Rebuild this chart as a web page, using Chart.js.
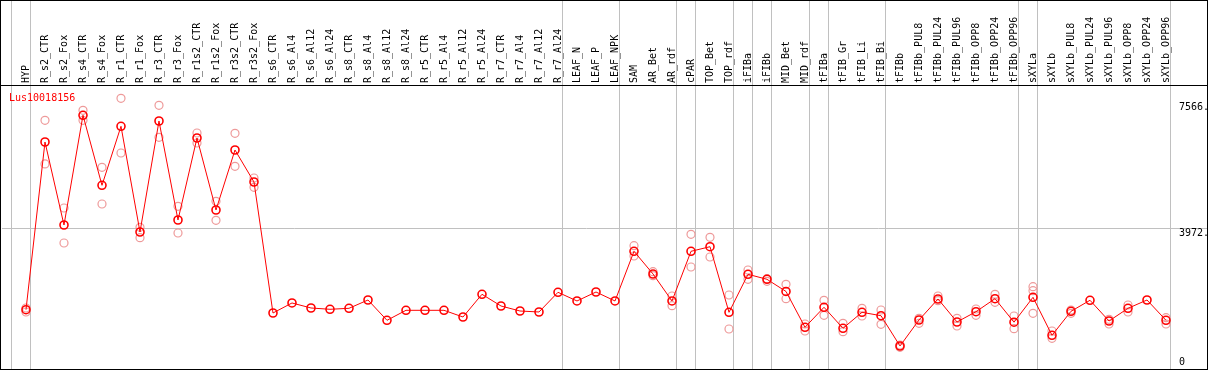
<!DOCTYPE html>
<html>
<head>
<meta charset="utf-8">
<style>
  html, body { margin: 0; padding: 0; background: #fff; }
  canvas { display: block; }
</style>
<script src="https://cdn.jsdelivr.net/npm/chart.js@4/dist/chart.umd.min.js"></script>
</head>
<body>
<canvas id="exprChart" width="1209" height="370"></canvas>
<script>
/* Expression profile — one gene across tissues / treatments */

const geneName = 'Lus10018156';

const categories = [
  'HYP', 'R_s2_CTR', 'R_s2_Fox', 'R_s4_CTR', 'R_s4_Fox', 'R_r1_CTR', 'R_r1_Fox',
  'R_r3_CTR', 'R_r3_Fox', 'R_r1s2_CTR', 'R_r1s2_Fox', 'R_r3s2_CTR', 'R_r3s2_Fox',
  'R_s6_CTR', 'R_s6_Al4', 'R_s6_Al12', 'R_s6_Al24', 'R_s8_CTR', 'R_s8_Al4',
  'R_s8_Al12', 'R_s8_Al24', 'R_r5_CTR', 'R_r5_Al4', 'R_r5_Al12', 'R_r5_Al24',
  'R_r7_CTR', 'R_r7_Al4', 'R_r7_Al12', 'R_r7_Al24', 'LEAF_N', 'LEAF_P', 'LEAF_NPK',
  'SAM', 'AR_Bet', 'AR_rdf', 'cPAR', 'TOP_Bet', 'TOP_rdf', 'iFIBa', 'iFIBb',
  'MID_Bet', 'MID_rdf', 'tFIBa', 'tFIB_Gr', 'tFIB_Li', 'tFIB_Bi', 'tFIBb',
  'tFIBb_PUL8', 'tFIBb_PUL24', 'tFIBb_PUL96', 'tFIBb_OPP8', 'tFIBb_OPP24', 'tFIBb_OPP96',
  'sXYLa', 'sXYLb', 'sXYLb_PUL8', 'sXYLb_PUL24', 'sXYLb_PUL96', 'sXYLb_OPP8',
  'sXYLb_OPP24', 'sXYLb_OPP96'
];

// mean expression per sample
const meanValues = [
  1648, 6431, 4064, 7193, 5196, 6879, 3864, 7030, 4207, 6545, 4492, 6203, 5290,
  1554, 1840, 1697, 1660, 1688, 1925, 1346, 1631, 1631, 1631, 1440, 2088,
  1754, 1611, 1583, 2145, 1897, 2153, 1897,
  3314, 2667, 1897, 3314, 3445, 1574, 2658, 2515, 2168, 1147,
  1717, 1118, 1574, 1477, 613, 1355, 1954, 1298, 1591, 1962, 1292,
  2002, 918, 1603, 1917, 1326, 1688, 1925, 1346
];

// biological replicates (null = not shown)
const rep1 = [
  1697, 7050, 4549, 7335, 5710, 7678, 3998, 7478, 4597, 6688, 4740, 6679, 5405,
  null, null, null, null, null, null, null, null, null, null, null, null,
  null, null, null, null, null, null, null,
  3474, 2732, 2039, 3799, 3713, 2068, 2781, 2533, 2373, 1241,
  1917, 1261, 1688, 1640, 642, 1403, 2039, 1403, 1668, 2088, 1469,
  2304, 1041, 1640, null, 1375, 1783, null, 1420
];
const rep2 = [
  1583, 5806, 3551, 7050, 4663, 6117, 3702, 6566, 3836, 6403, 4198, 5738, 5139,
  null, null, null, null, null, null, null, null, null, null, null, null,
  null, null, null, null, null, null, null,
  3180, 2618, 1763, 2866, 3151, 1098, 2515, 2458, 1962, 1041,
  1489, 1021, 1469, 1232, 576, 1261, 1905, 1184, 1489, 1859, 1107,
  2190, 833, 1546, null, 1241, 1583, null, 1241
];
const rep3 = [
  null, null, null, null, null, null, null, null, null, null, null, null, null,
  null, null, null, null, null, null, null, null, null, null, null, null,
  null, null, null, null, null, null, null,
  null, null, null, null, null, null, null, null, null, null,
  null, null, null, null, null, null, null, null, null, null, null,
  1546, null, null, null, null, null, null, null
];

// index of the last sample in each group (-1 = left edge)
const separators = [-1, 0, 28, 31, 34, 35, 37, 38, 39, 41, 42, 45, 52, 53, 60];

const yTicks = [0, 3972, 7566];

const monoFont = 'DejaVu Sans Mono';

const meanPoints = meanValues.map((v, i) => ({ x: i, y: v }));
const repPoints = [];
[rep1, rep2, rep3].forEach(rep => {
  rep.forEach((v, i) => { if (v !== null) repPoints.push({ x: i, y: v }); });
});

/* frame, group separators and gene name */
const framePlugin = {
  id: 'frame',
  beforeDatasetsDraw(chart) {
    const { ctx, chartArea, scales: { x } } = chart;
    ctx.save();
    ctx.strokeStyle = '#c0c0c0';
    ctx.lineWidth = 1;
    separators.forEach(s => {
      const px = Math.round(x.getPixelForValue(s + 0.21)) + 0.5;
      ctx.beginPath();
      ctx.moveTo(px, 0);
      ctx.lineTo(px, chartArea.bottom);
      ctx.stroke();
    });
    ctx.fillStyle = '#ff0000';
    ctx.font = '10px "' + monoFont + '"';
    ctx.textBaseline = 'top';
    ctx.fillText(geneName, chartArea.left + 7, chartArea.top + 8);
    ctx.restore();
  },
  afterDraw(chart) {
    const { ctx, chartArea, scales: { y } } = chart;
    ctx.save();
    ctx.strokeStyle = '#000';
    ctx.lineWidth = 1;
    ctx.strokeRect(0.5, 0.5, y.right, chartArea.bottom);
    ctx.beginPath();
    ctx.moveTo(0, chartArea.top + 0.5);
    ctx.lineTo(y.right + 1, chartArea.top + 0.5);
    ctx.stroke();
    ctx.restore();
  }
};

new Chart(document.getElementById('exprChart'), {
  type: 'line',
  data: {
    datasets: [
      {
        label: 'mean',
        data: meanPoints,
        order: 0,
        borderColor: '#ff0000',
        borderWidth: 1,
        tension: 0,
        fill: false,
        pointStyle: 'circle',
        pointRadius: 4,
        pointBorderWidth: 1.6,
        pointBorderColor: '#ff0000',
        pointBackgroundColor: 'rgba(0,0,0,0)'
      },
      {
        label: 'replicates',
        data: repPoints,
        order: 1,
        showLine: false,
        pointStyle: 'circle',
        pointRadius: 4,
        pointBorderWidth: 1.2,
        pointBorderColor: '#ee9a9a',
        pointBackgroundColor: 'rgba(0,0,0,0)'
      }
    ]
  },
  options: {
    responsive: false,
    animation: false,
    devicePixelRatio: 1,
    layout: { autoPadding: false, padding: { left: 2, right: 2, top: 0, bottom: 1 } },
    plugins: {
      legend: { display: false },
      tooltip: { enabled: false }
    },
    scales: {
      x: {
        type: 'linear',
        position: 'top',
        min: -1.263,
        max: 60.263,
        afterBuildTicks: scale => {
          scale.ticks = categories.map((c, i) => ({ value: i }));
        },
        afterFit: scale => {
          scale.height = 85;
          scale.paddingLeft = 0;
          scale.paddingRight = 0;
        },
        grid: { display: false, drawTicks: false },
        border: { display: false },
        ticks: {
          autoSkip: false,
          minRotation: 90,
          maxRotation: 90,
          padding: 2,
          color: '#000',
          font: { family: monoFont, size: 10, lineHeight: 0 },
          callback: value => categories[value]
        }
      },
      y: {
        type: 'linear',
        position: 'right',
        min: -43,
        max: 8057,
        afterBuildTicks: scale => {
          scale.ticks = yTicks.map(v => ({ value: v }));
        },
        afterFit: scale => {
          scale.width = 36;
          scale.paddingTop = 0;
          scale.paddingBottom = 0;
        },
        grid: {
          color: ctx => (ctx.tick && ctx.tick.value === yTicks[1]) ? '#c0c0c0' : 'rgba(0,0,0,0)',
          lineWidth: 1,
          drawTicks: true,
          tickLength: 36
        },
        border: { display: false },
        ticks: {
          crossAlign: 'near',
          padding: -28,
          color: '#000',
          font: { family: monoFont, size: 10, lineHeight: 1 },
          callback: value => value === 0 ? ['0', ''] : ['', value + '.']
        }
      }
    }
  },
  plugins: [framePlugin]
});
</script>
</body>
</html>
